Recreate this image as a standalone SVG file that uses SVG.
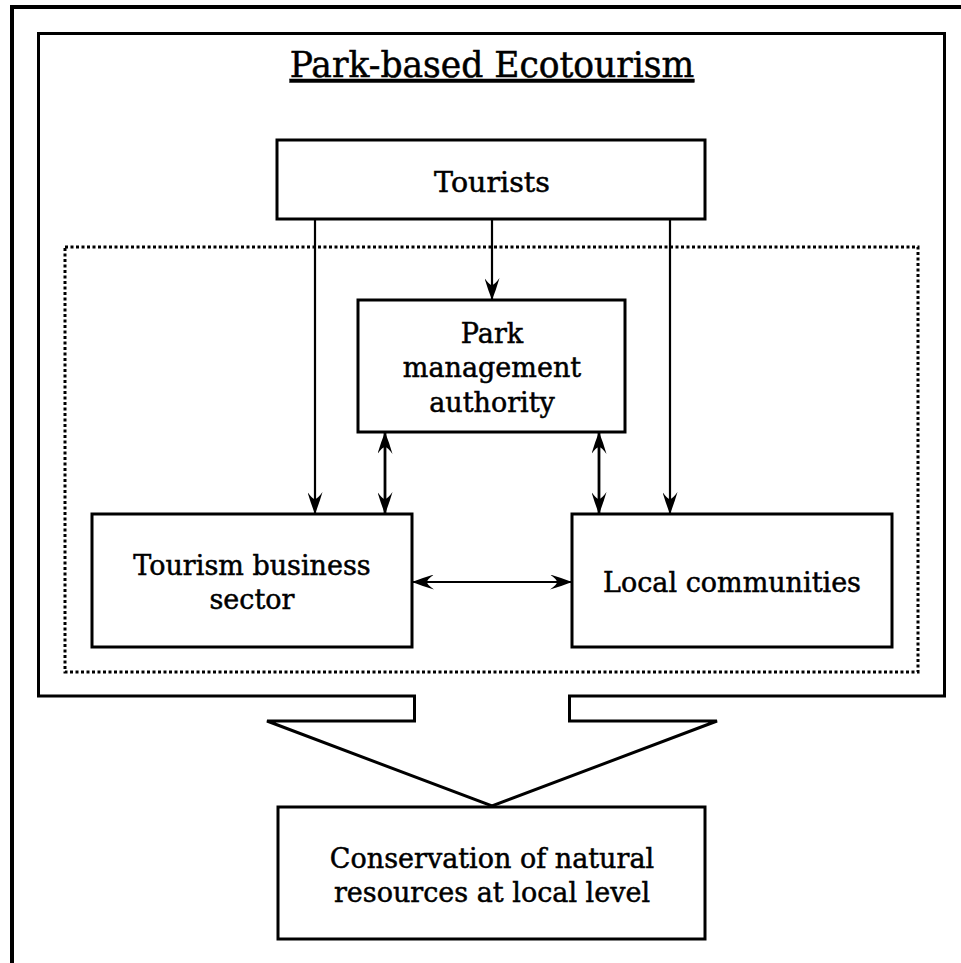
<svg xmlns="http://www.w3.org/2000/svg" width="961" height="963" viewBox="0 0 961 963">
<defs>
<marker id="ah" viewBox="0 0 22 15" refX="21" refY="7.5" markerWidth="22" markerHeight="15" markerUnits="userSpaceOnUse" orient="auto-start-reverse">
<path d="M22,7.5 Q12,3.5 0,0 Q7,5 7,7.5 Q7,10 0,15 Q12,11.5 22,7.5 Z" fill="#000"/>
</marker>
</defs>
<style>
.box{fill:#fff;stroke:#000;stroke-width:3}
.frame{fill:none;stroke:#000;stroke-width:3}
.lbl{font-family:"DejaVu Serif","Liberation Serif",serif;font-size:27px;fill:#000;stroke:#000;stroke-width:0.5;text-anchor:middle}
.con{fill:none;stroke:#000;stroke-width:2.2}
.dbl{fill:none;stroke:#000;stroke-width:2.8}
</style>
<rect width="961" height="963" fill="#fff"/>
<g id="page-border">
<path d="M12,963 V7 H961" fill="none" stroke="#000" stroke-width="4"/>
</g>
<g id="park-based-ecotourism">
<path class="frame" d="M38.5,33.5 H944.5 V696 H569.5 V721 H717 L492,806 L267,721 H414.5 V696 H38.5 Z"/>
<text class="lbl" x="492" y="77" style="font-size:34.5px" text-decoration="underline">Park-based Ecotourism</text>
</g>
<g id="stakeholder-zone">
<rect x="65" y="247" width="853" height="425" fill="none" stroke="#000" stroke-width="3" stroke-dasharray="3 2.5"/>
</g>
<g id="tourists">
<rect class="box" x="277" y="140" width="428" height="79"/>
<text class="lbl" x="492" y="192" style="font-size:28.5px">Tourists</text>
</g>
<g id="park-management">
<rect class="box" x="358" y="300" width="267" height="132"/>
<text class="lbl" x="492" y="343">Park</text>
<text class="lbl" x="492" y="377">management</text>
<text class="lbl" x="492" y="412">authority</text>
</g>
<g id="tourism-business">
<rect class="box" x="92" y="514" width="320" height="133"/>
<text class="lbl" x="252" y="575">Tourism business</text>
<text class="lbl" x="252" y="609">sector</text>
</g>
<g id="local-communities">
<rect class="box" x="572" y="514" width="320" height="133"/>
<text class="lbl" x="732" y="592">Local communities</text>
</g>
<g id="conservation">
<rect class="box" x="278" y="807" width="427" height="132"/>
<text class="lbl" x="492" y="868">Conservation of natural</text>
<text class="lbl" x="492" y="902">resources at local level</text>
</g>
<g id="connectors">
<line class="con" x1="315" y1="220" x2="315" y2="513" marker-end="url(#ah)"/>
<line class="con" x1="492" y1="220" x2="492" y2="299" marker-end="url(#ah)"/>
<line class="con" x1="670" y1="220" x2="670" y2="513" marker-end="url(#ah)"/>
<line class="dbl" x1="385" y1="433" x2="385" y2="513" marker-start="url(#ah)" marker-end="url(#ah)"/>
<line class="dbl" x1="599" y1="433" x2="599" y2="513" marker-start="url(#ah)" marker-end="url(#ah)"/>
<line class="con" x1="413" y1="582" x2="571" y2="582" marker-start="url(#ah)" marker-end="url(#ah)"/>
</g>
</svg>
